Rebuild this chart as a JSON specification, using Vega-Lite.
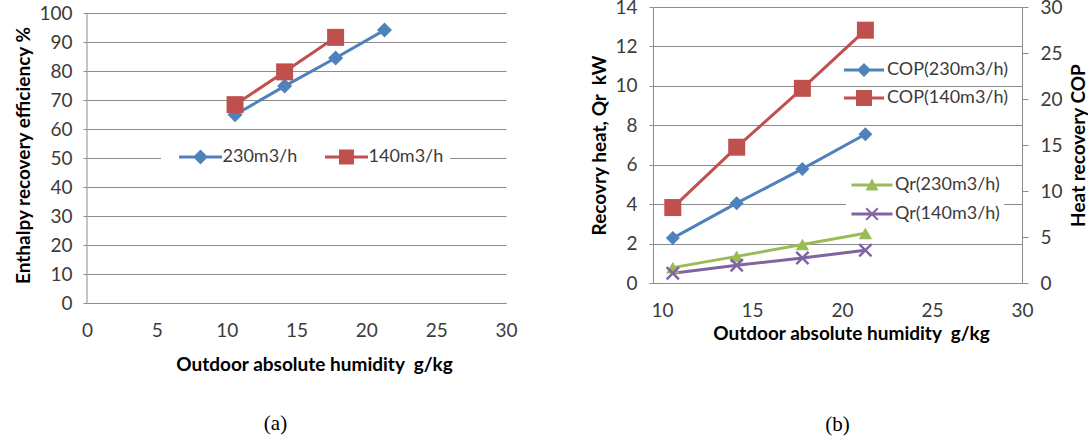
{
  "$schema": "https://vega.github.io/schema/vega-lite/v6.json",
  "background": "white",
  "padding": {"left": 14, "top": -2, "right": 0, "bottom": 2},
  "bounds": "flush",
  "spacing": 147,
  "datasets": {
    "eff": [
      {"h": 10.6, "eff": 64.9, "series": "230m3/h"},
      {"h": 14.15, "eff": 74.8, "series": "230m3/h"},
      {"h": 17.8, "eff": 84.5, "series": "230m3/h"},
      {"h": 21.3, "eff": 94.1, "series": "230m3/h"},
      {"h": 10.6, "eff": 68.4, "series": "140m3/h"},
      {"h": 14.15, "eff": 79.7, "series": "140m3/h"},
      {"h": 17.8, "eff": 91.6, "series": "140m3/h"}
    ],
    "qr": [
      {"h": 10.6, "value": 0.78, "series": "Qr(230m3/h)"},
      {"h": 14.15, "value": 1.35, "series": "Qr(230m3/h)"},
      {"h": 17.8, "value": 1.95, "series": "Qr(230m3/h)"},
      {"h": 21.3, "value": 2.52, "series": "Qr(230m3/h)"},
      {"h": 10.6, "value": 0.5, "series": "Qr(140m3/h)"},
      {"h": 14.15, "value": 0.9, "series": "Qr(140m3/h)"},
      {"h": 17.8, "value": 1.27, "series": "Qr(140m3/h)"},
      {"h": 21.3, "value": 1.66, "series": "Qr(140m3/h)"}
    ],
    "cop": [
      {"h": 10.6, "value": 4.88, "series": "COP(230m3/h)"},
      {"h": 14.15, "value": 8.68, "series": "COP(230m3/h)"},
      {"h": 17.8, "value": 12.4, "series": "COP(230m3/h)"},
      {"h": 21.3, "value": 16.17, "series": "COP(230m3/h)"},
      {"h": 10.6, "value": 8.2, "series": "COP(140m3/h)"},
      {"h": 14.15, "value": 14.76, "series": "COP(140m3/h)"},
      {"h": 17.8, "value": 21.16, "series": "COP(140m3/h)"},
      {"h": 21.3, "value": 27.48, "series": "COP(140m3/h)"}
    ]
  },
  "config": {
    "view": {"stroke": null},
    "font": "Lato",
    "axis": {
      "labelFont": "Lato", "labelFontSize": 19, "labelColor": "#3b3b3b", "labelOverlap": false, "labelFlush": false, "format": "d",
      "titleFont": "Lato", "titleFontSize": 19, "titleFontWeight": "bold", "titleColor": "#000000",
      "domainColor": "#8c8c8c", "tickColor": "#8c8c8c", "gridColor": "#8c8c8c", "gridOpacity": 1, "domainWidth": 1
    },
    "legend": {"labelFont": "Lato", "labelFontSize": 18, "labelColor": "#3b3b3b", "labelLimit": 400}
  },
  "resolve": {"scale": {"color": "independent", "shape": "independent", "size": "independent"}, "legend": {"color": "independent", "shape": "independent"}},
  "hconcat": [
    {
      "width": 419,
      "height": 296,
      "title": {"text": "(a)", "orient": "bottom", "frame": "group", "anchor": "middle", "dx": -21, "offset": 39, "font": "Liberation Serif", "fontSize": 21, "fontWeight": "normal", "color": "#000000"},
      "data": {"name": "eff"},
      "layer": [
        {
          "mark": {"type": "line", "strokeWidth": 3},
          "encoding": {
            "x": {"field": "h", "type": "quantitative", "scale": {"domain": [0, 30], "nice": false},
                  "axis": {"title": "Outdoor absolute humidity \u00a0g/kg", "format": "d", "labelFlush": false, "values": [0, 5, 10, 15, 20, 25, 30], "tickCount": 30, "grid": false, "ticks": false, "labelPadding": 18, "titlePadding": 15, "titleX": 227, "titleAlign": "center"}},
            "y": {"field": "eff", "type": "quantitative", "scale": {"domain": [0, 102.07], "nice": false},
                  "axis": {"title": "Enthalpy recovery efficiency %", "format": "d", "labelFlush": false, "values": [0, 10, 20, 30, 40, 50, 60, 70, 80, 90, 100], "tickCount": 30, "grid": true, "domain": false, "tickSize": 4, "labelPadding": 11, "titlePadding": 5}},
            "color": {"field": "series", "type": "nominal",
                      "scale": {"domain": ["230m3/h", "140m3/h"], "range": ["#4F81BD", "#C0504D"]}, "legend": null}
          }
        },
        {
          "mark": {"type": "point", "filled": true, "opacity": 1},
          "encoding": {
            "x": {"field": "h", "type": "quantitative"},
            "y": {"field": "eff", "type": "quantitative"},
            "color": {"field": "series", "type": "nominal", "scale": {"domain": ["230m3/h", "140m3/h"], "range": ["#4F81BD", "#C0504D"]}, "legend": null},
            "shape": {"field": "series", "type": "nominal", "scale": {"domain": ["230m3/h", "140m3/h"], "range": ["diamond", "square"]}, "legend": null},
            "size": {"field": "series", "type": "nominal", "scale": {"domain": ["230m3/h", "140m3/h"], "range": [225, 289]}, "legend": null}
          }
        },
        {
          "mark": {"type": "point", "filled": true, "opacity": 0},
          "encoding": {
            "x": {"field": "h", "type": "quantitative"},
            "y": {"field": "eff", "type": "quantitative"},
            "color": {"field": "series", "type": "nominal", "scale": {"domain": ["230m3/h", "140m3/h"], "range": ["#4F81BD", "#C0504D"]},
                      "legend": {"orient": "none", "legendX": 74, "legendY": 135, "direction": "horizontal", "title": null,
                                 "fillColor": "white", "padding": 6, "symbolSize": 196, "symbolStrokeWidth": 0, "symbolOpacity": 1,
                                 "symbolOffset": 24.5, "labelOffset": 13, "columnPadding": 15}},
            "shape": {"field": "series", "type": "nominal",
                      "scale": {"domain": ["230m3/h", "140m3/h"], "range": ["M-3.07,-0.21L3.07,-0.21L3.07,0.21L-3.07,0.21ZM-1.07,0L0,-1.07L1.07,0L0,1.07Z", "M-3.07,-0.21L3.07,-0.21L3.07,0.21L-3.07,0.21ZM-1.07,-1.07L1.07,-1.07L1.07,1.07L-1.07,1.07Z"]},
                      "legend": {"orient": "none", "legendX": 74, "legendY": 135, "direction": "horizontal", "title": null,
                                 "fillColor": "white", "padding": 6, "symbolSize": 196, "symbolStrokeWidth": 0, "symbolOpacity": 1,
                                 "symbolOffset": 24.5, "labelOffset": 13, "columnPadding": 15}}
          }
        },
        {
          "data": {"values": [{}]},
          "mark": {"type": "rule", "color": "#8c8c8c", "strokeWidth": 1},
          "encoding": {
            "x": {"datum": 0, "type": "quantitative"},
            "y": {"datum": 0, "type": "quantitative"},
            "y2": {"datum": 100}
          }
        }
      ],
      "resolve": {"scale": {"color": "independent", "shape": "independent", "size": "independent"}}
    },
    {
      "width": 369,
      "height": 276,
      "title": {"text": "(b)", "orient": "bottom", "frame": "group", "anchor": "middle", "offset": 71, "font": "Liberation Serif", "fontSize": 21, "fontWeight": "normal", "color": "#000000"},
      "layer": [
        {
          "data": {"name": "qr"},
          "layer": [
            {
              "mark": {"type": "line", "strokeWidth": 3},
              "encoding": {
                "x": {"field": "h", "type": "quantitative", "scale": {"domain": [9.5, 30], "nice": false},
                      "axis": {"title": "Outdoor absolute humidity \u00a0g/kg", "format": "d", "labelFlush": false, "values": [10, 15, 20, 25, 30], "tickCount": 30, "grid": false, "ticks": false, "labelPadding": 18, "titlePadding": 4, "titleX": 198, "titleAlign": "center"}},
                "y": {"field": "value", "type": "quantitative", "scale": {"domain": [0, 14], "nice": false},
                      "axis": {"title": "Recovry heat, Qr \u00a0kW", "format": "d", "labelFlush": false, "orient": "left", "values": [0, 2, 4, 6, 8, 10, 12, 14], "tickCount": 30, "grid": true, "tickSize": 4, "labelPadding": 12, "titlePadding": 5}},
                "color": {"field": "series", "type": "nominal", "scale": {"domain": ["Qr(230m3/h)", "Qr(140m3/h)"], "range": ["#9BBB59", "#8064A2"]}, "legend": null}
              }
            },
            {
              "mark": {"type": "point", "filled": true, "opacity": 1},
              "encoding": {
                "x": {"field": "h", "type": "quantitative"},
                "y": {"field": "value", "type": "quantitative"},
                "color": {"field": "series", "type": "nominal", "scale": {"domain": ["Qr(230m3/h)", "Qr(140m3/h)"], "range": ["#9BBB59", "#8064A2"]}, "legend": null},
                "shape": {"field": "series", "type": "nominal", "scale": {"domain": ["Qr(230m3/h)", "Qr(140m3/h)"], "range": ["triangle-up", "M0,-0.25L0.75,-1L1,-0.75L0.25,0L1,0.75L0.75,1L0,0.25L-0.75,1L-1,0.75L-0.25,0L-1,-0.75L-0.75,-1Z"]}, "legend": null},
                "size": {"field": "series", "type": "nominal", "scale": {"domain": ["Qr(230m3/h)", "Qr(140m3/h)"], "range": [180, 196]}, "legend": null}
              }
            },
            {
              "mark": {"type": "point", "filled": true, "opacity": 0},
              "encoding": {
                "x": {"field": "h", "type": "quantitative"},
                "y": {"field": "value", "type": "quantitative"},
                "color": {"field": "series", "type": "nominal", "scale": {"domain": ["Qr(230m3/h)", "Qr(140m3/h)"], "range": ["#9BBB59", "#8064A2"]},
                          "legend": {"orient": "none", "legendX": 193, "legendY": 165, "direction": "vertical", "title": null,
                                     "fillColor": "white", "padding": 4, "symbolSize": 196, "symbolStrokeWidth": 0, "symbolOpacity": 1,
                                     "symbolOffset": 13, "labelOffset": 14, "rowPadding": 11}},
                "shape": {"field": "series", "type": "nominal",
                          "scale": {"domain": ["Qr(230m3/h)", "Qr(140m3/h)"], "range": ["M-2.93,-0.21L2.93,-0.21L2.93,0.21L-2.93,0.21ZM0,-0.93L0.93,0.8L-0.93,0.8Z", "M-2.93,-0.21L2.93,-0.21L2.93,0.21L-2.93,0.21ZM0,-0.2L0.73,-0.93L0.93,-0.73L0.2,0L0.93,0.73L0.73,0.93L0,0.2L-0.73,0.93L-0.93,0.73L-0.2,0L-0.93,-0.73L-0.73,-0.93Z"]},
                          "legend": {"orient": "none", "legendX": 193, "legendY": 165, "direction": "vertical", "title": null,
                                     "fillColor": "white", "padding": 4, "symbolSize": 196, "symbolStrokeWidth": 0, "symbolOpacity": 1,
                                     "symbolOffset": 13, "labelOffset": 14, "rowPadding": 11}}
              }
            }
          ],
          "resolve": {"scale": {"color": "independent", "shape": "independent", "size": "independent"}}
        },
        {
          "data": {"name": "cop"},
          "layer": [
            {
              "mark": {"type": "line", "strokeWidth": 3},
              "encoding": {
                "x": {"field": "h", "type": "quantitative"},
                "y": {"field": "value", "type": "quantitative", "scale": {"domain": [0, 30], "nice": false},
                      "axis": {"title": "Heat recovery COP", "format": "d", "labelFlush": false, "orient": "right", "values": [0, 5, 10, 15, 20, 25, 30], "tickCount": 30, "grid": false, "tickSize": 6, "labelPadding": 12,
                               "titleAngle": 270, "titleX": 56, "titleY": 138, "titleAlign": "center", "titleBaseline": "middle"}},
                "color": {"field": "series", "type": "nominal", "scale": {"domain": ["COP(230m3/h)", "COP(140m3/h)"], "range": ["#4F81BD", "#C0504D"]}, "legend": null}
              }
            },
            {
              "mark": {"type": "point", "filled": true, "opacity": 1},
              "encoding": {
                "x": {"field": "h", "type": "quantitative"},
                "y": {"field": "value", "type": "quantitative"},
                "color": {"field": "series", "type": "nominal", "scale": {"domain": ["COP(230m3/h)", "COP(140m3/h)"], "range": ["#4F81BD", "#C0504D"]}, "legend": null},
                "shape": {"field": "series", "type": "nominal", "scale": {"domain": ["COP(230m3/h)", "COP(140m3/h)"], "range": ["diamond", "square"]}, "legend": null},
                "size": {"field": "series", "type": "nominal", "scale": {"domain": ["COP(230m3/h)", "COP(140m3/h)"], "range": [196, 289]}, "legend": null}
              }
            },
            {
              "mark": {"type": "point", "filled": true, "opacity": 0},
              "encoding": {
                "x": {"field": "h", "type": "quantitative"},
                "y": {"field": "value", "type": "quantitative"},
                "color": {"field": "series", "type": "nominal", "scale": {"domain": ["COP(230m3/h)", "COP(140m3/h)"], "range": ["#4F81BD", "#C0504D"]},
                          "legend": {"orient": "none", "legendX": 189, "legendY": 54, "direction": "vertical", "title": null,
                                     "padding": 0, "symbolSize": 196, "symbolStrokeWidth": 0, "symbolOpacity": 1,
                                     "symbolOffset": 13, "labelOffset": 14, "rowPadding": 10}},
                "shape": {"field": "series", "type": "nominal",
                          "scale": {"domain": ["COP(230m3/h)", "COP(140m3/h)"], "range": ["M-2.86,-0.21L2.86,-0.21L2.86,0.21L-2.86,0.21ZM-1,0L0,-1L1,0L0,1Z", "M-2.86,-0.21L2.86,-0.21L2.86,0.21L-2.86,0.21ZM-1.14,-1.14L1.14,-1.14L1.14,1.14L-1.14,1.14Z"]},
                          "legend": {"orient": "none", "legendX": 189, "legendY": 54, "direction": "vertical", "title": null,
                                     "padding": 0, "symbolSize": 196, "symbolStrokeWidth": 0, "symbolOpacity": 1,
                                     "symbolOffset": 13, "labelOffset": 14, "rowPadding": 10}}
              }
            }
          ],
          "resolve": {"scale": {"color": "independent", "shape": "independent", "size": "independent"}}
        }
      ],
      "resolve": {"scale": {"y": "independent", "color": "independent", "shape": "independent", "size": "independent"}}
    }
  ]
}
